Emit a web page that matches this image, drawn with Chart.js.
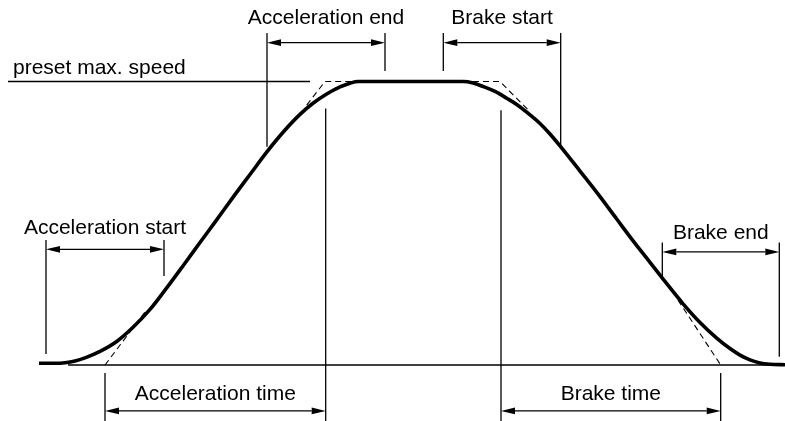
<!DOCTYPE html>
<html>
<head>
<meta charset="utf-8">
<script src="https://cdn.jsdelivr.net/npm/chart.js@4"></script>
<style>
  html, body { margin:0; padding:0; background:#fff; }
  #wrap { width:785px; height:421px; }
</style>
</head>
<body>
<div id="wrap"><canvas id="chart"></canvas></div>
<script>
// ---- data (time in arbitrary units, speed in % of preset max) -------------
const curveTime  = [39, 55, 65, 75, 85, 100, 116.7, 133.3, 150, 166.7, 183.3, 200, 215, 233.3, 250, 266.7, 283.3, 300, 313.3, 326.7, 340, 350, 358,
                    463.3, 473, 483.3, 495, 506.7, 516.7, 526.7, 540, 550, 560, 580, 600, 616.7, 633.3, 650, 663.3, 683.3, 700, 716.7, 730, 740, 750, 760, 770, 785];
const curveSpeed = [0.6, 0.6, 0.8, 1.4, 2.5, 4.8, 8.3, 13.4, 19.6, 27.2, 35.1, 43.2, 50.4, 59.3, 67.2, 75.1, 82.2, 88.4, 92.4, 95.6, 98.1, 99.4, 100,
                    100, 99.5, 98.2, 96.5, 94.1, 91.9, 89.2, 85.2, 81.5, 77.3, 68.4, 59.4, 51.5, 43.7, 36.2, 30.2, 21.5, 15.0, 9.5, 5.8, 3.5, 1.8, 0.7, 0.25, 0.1];

// linear (trapezoid) reference profile, shown dashed where it leaves the curve
const accelDashLowT = [105, 145],        accelDashLowV = [0, 18.7];
const accelDashTopT = [306.7, 325, 358], accelDashTopV = [91.7, 100, 100];
const brakeDashTopT = [463, 500, 530],   brakeDashTopV = [100, 100, 89.3];
const brakeDashLowT = [678, 720.7],      brakeDashLowV = [22.9, 0];

const baselineT = [68, 785], baselineV = [0, 0];
const presetT   = [8, 310],  presetV   = [100, 100];

// extension lines: [time, speed from, speed to]
const extLines = [
  [267, 117.1, 77.0], [385, 117.1, 103.7],     // acceleration end
  [443.3, 117.1, 103.7], [560.7, 117.1, 77.6], // brake start
  [46, 44.1, 3.9], [164, 44.1, 31.4],          // acceleration start
  [662.3, 43.2, 31.4], [779.3, 43.2, 2.9],     // brake end
  [325.7, 90.5, -19.75], [501, 89.9, -19.75],  // end of accel / start of brake
  [105, -2.8, -19.75], [720.7, -2.8, -19.75]   // accel time start / brake time end
];

// dimension arrows + labels
const dims = [
  { label:"Acceleration end",   from:267,   to:385,   at:113.7, textAt:120.3 },
  { label:"Brake start",        from:443.3, to:560.7, at:113.7, textAt:120.3 },
  { label:"Acceleration start", from:46,    to:164,   at:40.8,  textAt:46.2 },
  { label:"Brake end",          from:662.3, to:779.3, at:39.9,  textAt:44.3 },
  { label:"Acceleration time",  from:105,   to:325.7, at:-16.2, textAt:-12.3 },
  { label:"Brake time",         from:501,   to:720.7, at:-16.2, textAt:-12.3 }
];
const presetLabel = { label:"preset max. speed", t:13, v:102.6 };

// ---- helpers ---------------------------------------------------------------
const pts = (ts, vs) => ts.map((t, i) => ({ x:t, y:vs[i] }));
const line = (ts, vs, w, dash) => ({
  data: pts(ts, vs), showLine:true, pointRadius:0, borderColor:"#000",
  borderWidth:w, borderDash:dash || [], fill:false, clip:false, tension:0
});

const datasets = [
  line(baselineT, baselineV, 1.6),
  line(presetT, presetV, 1.3),
  line(accelDashLowT, accelDashLowV, 1.1, [6,4]),
  line(accelDashTopT, accelDashTopV, 1.1, [6,4]),
  line(brakeDashTopT, brakeDashTopV, 1.1, [6,4]),
  line(brakeDashLowT, brakeDashLowV, 1.1, [6,4]),
  ...extLines.map(e => line([e[0], e[0]], [e[1], e[2]], 1.3)),
  Object.assign(line(curveTime, curveSpeed, 3.6), { cubicInterpolationMode:"monotone" })
];

const FONT = '21px "Liberation Sans", Arial, Helvetica, sans-serif';

// arrows and texts, placed through the scales
const annot = {
  id:"annot",
  afterDatasetsDraw(chart){
    const { ctx, scales:{ x, y } } = chart;
    ctx.save();
    ctx.fillStyle = "#000"; ctx.strokeStyle = "#000"; ctx.lineWidth = 1.3;
    ctx.font = FONT;
    dims.forEach(d => {
      const x1 = x.getPixelForValue(d.from), x2 = x.getPixelForValue(d.to);
      const yy = y.getPixelForValue(d.at);
      const L = 14, H = 3.4;
      ctx.beginPath(); ctx.moveTo(x1 + L, yy); ctx.lineTo(x2 - L, yy); ctx.stroke();
      ctx.beginPath(); ctx.moveTo(x1, yy); ctx.lineTo(x1 + L, yy - H); ctx.lineTo(x1 + L, yy + H); ctx.closePath(); ctx.fill();
      ctx.beginPath(); ctx.moveTo(x2, yy); ctx.lineTo(x2 - L, yy - H); ctx.lineTo(x2 - L, yy + H); ctx.closePath(); ctx.fill();
      ctx.textAlign = "center"; ctx.textBaseline = "alphabetic";
      ctx.fillText(d.label, (x1 + x2) / 2, y.getPixelForValue(d.textAt));
    });
    ctx.textAlign = "left";
    ctx.fillText(presetLabel.label, x.getPixelForValue(presetLabel.t), y.getPixelForValue(presetLabel.v));
    ctx.restore();
  }
};

new Chart(document.getElementById("chart"), {
  type:"scatter",
  data:{ datasets },
  options:{
    responsive:true, maintainAspectRatio:false, animation:false,
    layout:{ padding:0 },
    plugins:{ legend:{ display:false }, tooltip:{ enabled:false } },
    scales:{
      x:{ type:"linear", min:0, max:785, display:false },
      y:{ type:"linear", min:-19.75, max:128.75, display:false }
    }
  },
  plugins:[annot]
});
</script>
</body>
</html>
